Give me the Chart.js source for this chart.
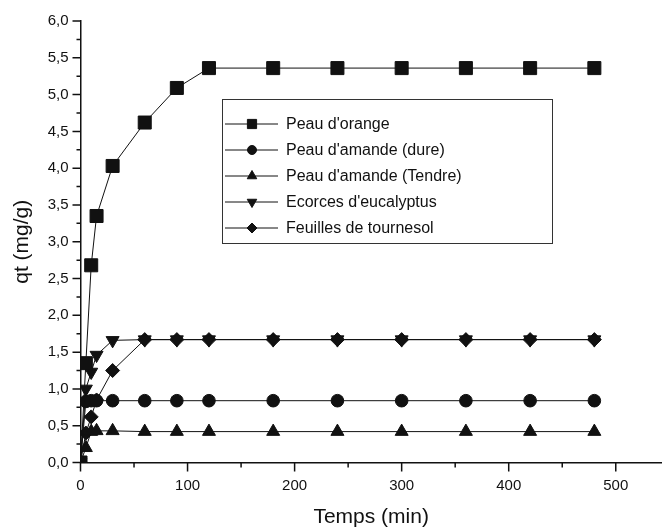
<!DOCTYPE html>
<html>
<head>
<meta charset="utf-8">
<script src="https://cdn.jsdelivr.net/npm/chart.js@4"></script>
<style>
  html, body { margin: 0; padding: 0; background: #fff; }
  #wrap { width: 672px; height: 530px; }
</style>
</head>
<body>
<div id="wrap"><canvas id="kinetics" width="672" height="530"></canvas></div>
<script>
// temps de contact (min) et qt (mg/g)
const temps = [0, 5, 10, 15, 30, 60, 90, 120, 180, 240, 300, 360, 420, 480];
const peauOrange = [0, 1.35, 2.68, 3.35, 4.03, 4.62, 5.09, 5.36, 5.36, 5.36, 5.36, 5.36, 5.36, 5.36];
const amandeDure = [0, 0.83, 0.84, 0.84, 0.84, 0.84, 0.84, 0.84, 0.84, 0.84, 0.84, 0.84, 0.84, 0.84];
const amandeTendre = [0, 0.2, 0.42, 0.43, 0.43, 0.42, 0.42, 0.42, 0.42, 0.42, 0.42, 0.42, 0.42, 0.42];
const eucalyptus = [0, 1.0, 1.23, 1.46, 1.66, 1.67, 1.67, 1.67, 1.67, 1.67, 1.67, 1.67, 1.67, 1.67];
const tournesol = [0, 0.4, 0.62, 0.85, 1.25, 1.67, 1.67, 1.67, 1.67, 1.67, 1.67, 1.67, 1.67, 1.67];

const xMajor = [0, 100, 200, 300, 400, 500];
const xMinor = [50, 150, 250, 350, 450];
const yStep = 0.5;

const FONT = "'Liberation Sans', Arial, sans-serif";
const ink = '#111';

function pts(values) {
    return temps.map((t, i) => ({ x: t, y: values[i] }));
}

function serie(label, values, style, radius, rotation) {
    return {
        label: label,
        data: pts(values),
        borderColor: ink,
        borderWidth: 1,
        backgroundColor: ink,
        pointStyle: style,
        pointRadius: radius,
        pointRotation: rotation || 0,
        pointBackgroundColor: ink,
        pointBorderColor: ink,
        pointBorderWidth: 1,
        tension: 0
    };
}

// ticks majeurs/mineurs dessinés à la main (Chart.js n'a pas de ticks mineurs)
const tickMarks = {
    id: 'tickMarks',
    afterDraw(chart) {
        const ctx = chart.ctx;
        const xs = chart.scales.x, ys = chart.scales.y;
        const area = chart.chartArea;
        ctx.save();
        ctx.strokeStyle = ink;
        ctx.lineWidth = 1.5;
        ctx.beginPath();
        xMajor.forEach(v => { const p = xs.getPixelForValue(v); ctx.moveTo(p, area.bottom); ctx.lineTo(p, area.bottom + 9); });
        xMinor.forEach(v => { const p = xs.getPixelForValue(v); ctx.moveTo(p, area.bottom); ctx.lineTo(p, area.bottom + 5); });
        for (let v = 0; v <= 6.0001; v += 0.25) {
            const p = ys.getPixelForValue(v);
            const major = Math.abs(v / yStep - Math.round(v / yStep)) < 1e-6;
            ctx.moveTo(area.left, p);
            ctx.lineTo(area.left - (major ? 8 : 4), p);
        }
        ctx.stroke();
        ctx.restore();
    }
};

// légende encadrée à l'intérieur du graphe, comme dans Origin
const boxLegend = {
    id: 'boxLegend',
    afterDraw(chart) {
        const ctx = chart.ctx;
        const box = { left: 222, top: 99, right: 552, bottom: 243 };
        const rowY = [124, 150, 176, 202, 228];
        const legendRadius = [6.5, 4.5, 5.5, 5.5, 5];
        ctx.save();
        ctx.strokeStyle = '#333';
        ctx.lineWidth = 1;
        ctx.strokeRect(box.left + 0.5, box.top + 0.5, box.right - box.left, box.bottom - box.top);
        ctx.font = '16px ' + FONT;
        ctx.textBaseline = 'middle';
        ctx.fillStyle = ink;
        chart.data.datasets.forEach((ds, i) => {
            const y = rowY[i];
            ctx.strokeStyle = ink;
            ctx.lineWidth = 1;
            ctx.beginPath();
            ctx.moveTo(225, y);
            ctx.lineTo(278, y);
            ctx.stroke();
            ctx.fillStyle = ink;
            Chart.helpers.drawPoint(ctx, {
                pointStyle: ds.pointStyle,
                rotation: ds.pointRotation,
                radius: legendRadius[i],
                borderWidth: 1
            }, 252, y);
            ctx.fillText(ds.label, 286, y + 1);
        });
        ctx.restore();
    }
};

new Chart(document.getElementById('kinetics'), {
    type: 'line',
    data: {
        datasets: [
            serie("Peau d'orange", peauOrange, 'rect', 9.2),
            serie("Peau d'amande (dure)", amandeDure, 'circle', 6.3),
            serie("Peau d'amande (Tendre)", amandeTendre, 'triangle', 7.5),
            serie("Ecorces d'eucalyptus", eucalyptus, 'triangle', 7.5, 180),
            serie("Feuilles de tournesol", tournesol, 'rectRot', 7)
        ]
    },
    options: {
        responsive: false,
        animation: false,
        layout: { padding: { top: 21, right: 0, left: 0, bottom: 0 } },
        plugins: {
            legend: { display: false },
            tooltip: { enabled: false }
        },
        scales: {
            x: {
                type: 'linear',
                min: 0,
                max: 543,
                grid: { display: false, drawTicks: false },
                border: { display: true, color: ink, width: 1.5 },
                afterBuildTicks(scale) { scale.ticks = xMajor.map(v => ({ value: v })); },
                afterFit(scale) { scale.height = 67.5; },
                ticks: {
                    padding: 14,
                    color: ink,
                    font: { family: FONT, size: 15 },
                    maxRotation: 0
                },
                title: {
                    display: true,
                    text: 'Temps (min)',
                    color: ink,
                    font: { family: FONT, size: 21 },
                    padding: { top: 10, bottom: 0 }
                }
            },
            y: {
                min: 0,
                max: 6,
                grid: { display: false, drawTicks: false },
                border: { display: true, color: ink, width: 1.5 },
                afterFit(scale) { scale.width = 80.5; },
                ticks: {
                    stepSize: yStep,
                    padding: 12,
                    color: ink,
                    font: { family: FONT, size: 15 },
                    callback: v => v.toFixed(1).replace('.', ',')
                },
                title: {
                    display: true,
                    text: 'qt (mg/g)',
                    color: ink,
                    font: { family: FONT, size: 21 },
                    padding: { top: 10, bottom: 0 }
                }
            }
        }
    },
    plugins: [tickMarks, boxLegend]
});
</script>
</body>
</html>
